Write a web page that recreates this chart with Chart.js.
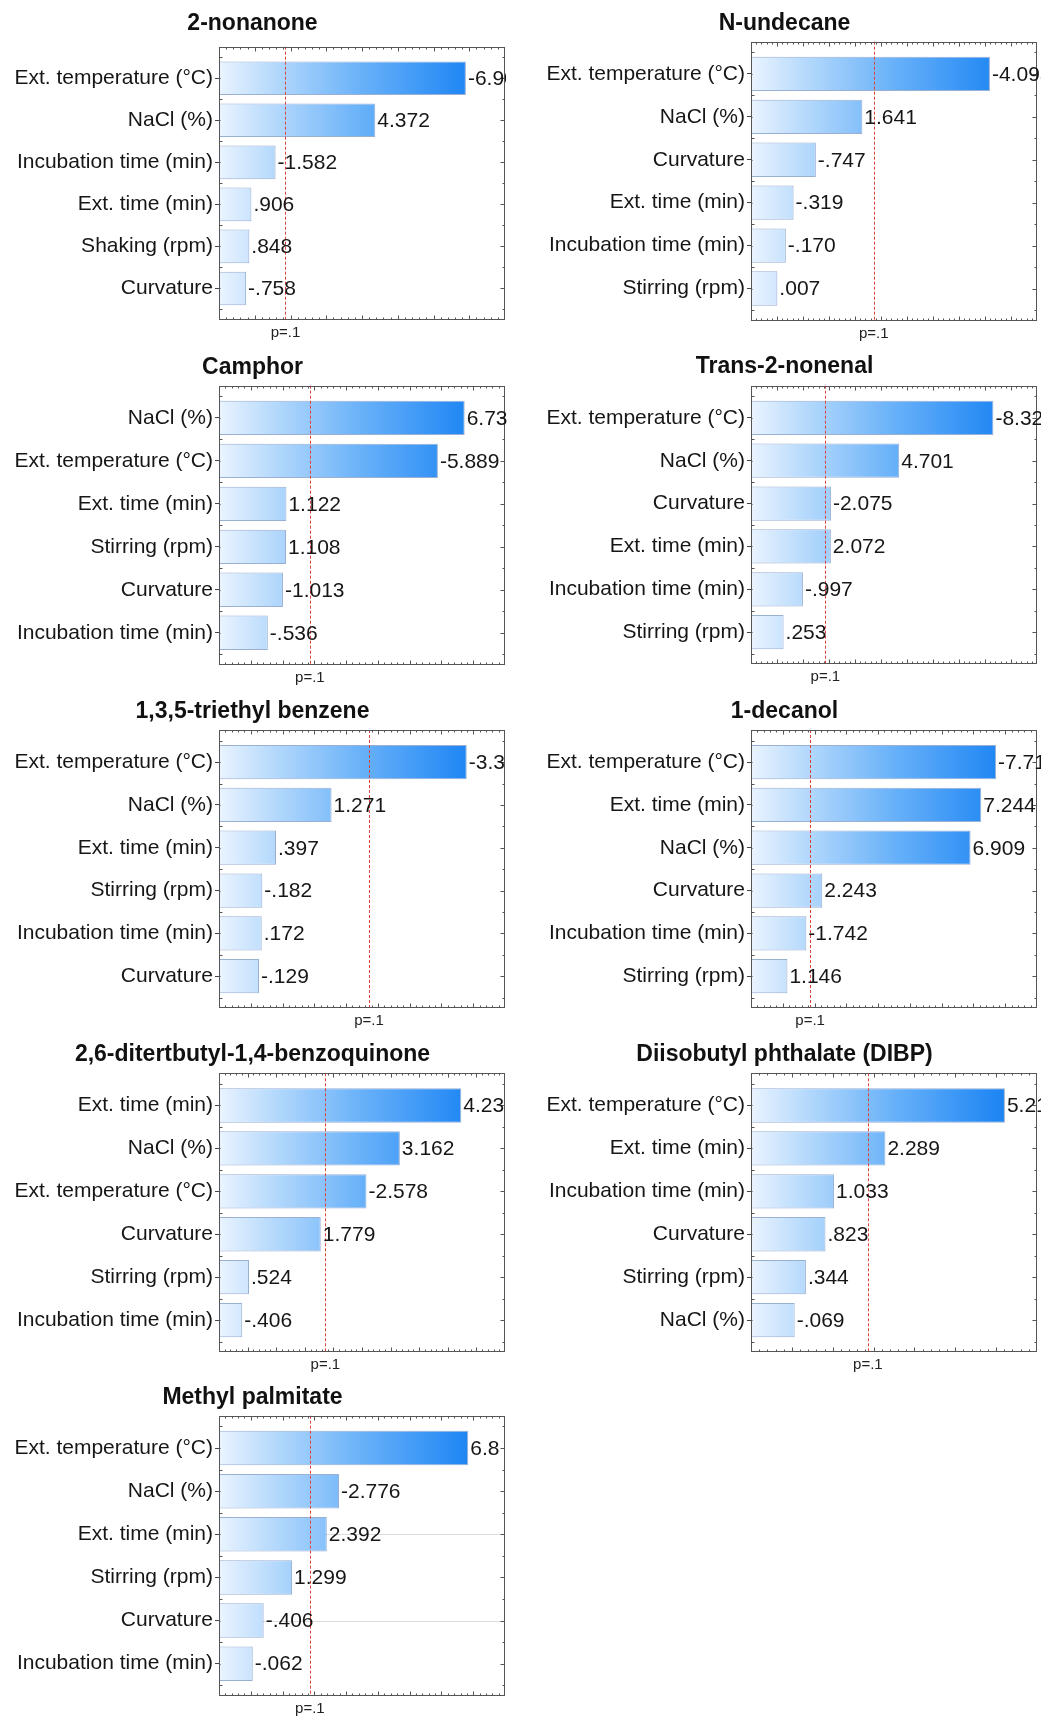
<!DOCTYPE html>
<html>
<head>
<meta charset="utf-8">
<title>Pareto charts of standardized effects</title>
<script src="https://cdn.jsdelivr.net/npm/chart.js@4.4.1/dist/chart.umd.min.js"></script>
<style>
  html, body { margin: 0; padding: 0; background: #ffffff; }
  body { position: relative; width: 1041px; height: 1720px; overflow: hidden; }
  canvas { position: absolute; }
</style>
</head>
<body>
<script>
// ---- Data: standardized effect estimates, listed top to bottom as ranked ----
const compounds = [
  '2-nonanone', 'N-undecane', 'Camphor', 'Trans-2-nonenal',
  '1,3,5-triethyl benzene', '1-decanol', '2,6-ditertbutyl-1,4-benzoquinone',
  'Diisobutyl phthalate (DIBP)', 'Methyl palmitate'
];

const factorsNonanone = ['Ext. temperature (°C)', 'NaCl (%)', 'Incubation time (min)', 'Ext. time (min)', 'Shaking (rpm)', 'Curvature'];
const effectsNonanone = [-6.906, 4.372, -1.582, 0.906, 0.848, -0.758];

const factorsUndecane = ['Ext. temperature (°C)', 'NaCl (%)', 'Curvature', 'Ext. time (min)', 'Incubation time (min)', 'Stirring (rpm)'];
const effectsUndecane = [-4.095, 1.641, -0.747, -0.319, -0.170, 0.007];

const factorsCamphor = ['NaCl (%)', 'Ext. temperature (°C)', 'Ext. time (min)', 'Stirring (rpm)', 'Curvature', 'Incubation time (min)'];
const effectsCamphor = [6.731, -5.889, 1.122, 1.108, -1.013, -0.536];

const factorsNonenal = ['Ext. temperature (°C)', 'NaCl (%)', 'Curvature', 'Ext. time (min)', 'Incubation time (min)', 'Stirring (rpm)'];
const effectsNonenal = [-8.323, 4.701, -2.075, 2.072, -0.997, 0.253];

const factorsTriethyl = ['Ext. temperature (°C)', 'NaCl (%)', 'Ext. time (min)', 'Stirring (rpm)', 'Incubation time (min)', 'Curvature'];
const effectsTriethyl = [-3.398, 1.271, 0.397, -0.182, 0.172, -0.129];

const factorsDecanol = ['Ext. temperature (°C)', 'Ext. time (min)', 'NaCl (%)', 'Curvature', 'Incubation time (min)', 'Stirring (rpm)'];
const effectsDecanol = [-7.713, 7.244, 6.909, 2.243, -1.742, 1.146];

const factorsQuinone = ['Ext. time (min)', 'NaCl (%)', 'Ext. temperature (°C)', 'Curvature', 'Stirring (rpm)', 'Incubation time (min)'];
const effectsQuinone = [4.235, 3.162, -2.578, 1.779, 0.524, -0.406];

const factorsDIBP = ['Ext. temperature (°C)', 'Ext. time (min)', 'Incubation time (min)', 'Curvature', 'Stirring (rpm)', 'NaCl (%)'];
const effectsDIBP = [5.215, 2.289, 1.033, 0.823, 0.344, -0.069];

const factorsPalmitate = ['Ext. temperature (°C)', 'NaCl (%)', 'Ext. time (min)', 'Stirring (rpm)', 'Curvature', 'Incubation time (min)'];
const effectsPalmitate = [6.843, -2.776, 2.392, 1.299, -0.406, -0.062];

// Effect-axis ranges and tick spacing for each panel
const axisMin  = [0, -0.5, -1, -1, -0.5, 0, 0, -1, -1];
const axisMax  = [8,  5,    8, 10,  4,   9, 5,  6,  8];
const axisStep = [1,  0.5,  1,  1,  0.5, 1, 0.5, 1, 1];

// Critical t value for p = .1
const pCritical = 1.86;
const pLabel = 'p=.1';

const factorLists = [factorsNonanone, factorsUndecane, factorsCamphor, factorsNonenal, factorsTriethyl,
                     factorsDecanol, factorsQuinone, factorsDIBP, factorsPalmitate];
const effectLists = [effectsNonanone, effectsUndecane, effectsCamphor, effectsNonenal, effectsTriethyl,
                     effectsDecanol, effectsQuinone, effectsDIBP, effectsPalmitate];

// ---- Page layout (pixels) ----
const CANVAS_W = 522;
const AXIS_W = 219;        // room for the factor names, left of the frame
const FRAME_RIGHT = 505;   // right edge of the plot frame inside each canvas
const HEADER_H = 40;       // space above the frame for the title
const TITLE_SIZE = 23;
const LABEL_SIZE = 21;
const panelLayout = [
  { left: 0,   frameTop: 46.7,   frameBottom: 320.0,  titleGap: 23.0, clipX: 506 },
  { left: 532, frameTop: 41.7,   frameBottom: 320.7,  titleGap: 18.5, clipX: 522 },
  { left: 0,   frameTop: 385.7,  frameBottom: 665.0,  titleGap: 18.0, clipX: 509 },
  { left: 532, frameTop: 385.7,  frameBottom: 664.3,  titleGap: 19.0, clipX: 522 },
  { left: 0,   frameTop: 730.0,  frameBottom: 1008.3, titleGap: 18.3, clipX: 506 },
  { left: 532, frameTop: 730.0,  frameBottom: 1008.3, titleGap: 18.3, clipX: 522 },
  { left: 0,   frameTop: 1073.3, frameBottom: 1352.3, titleGap: 18.3, clipX: 505 },
  { left: 532, frameTop: 1073.3, frameBottom: 1352.3, titleGap: 18.3, clipX: 522 },
  { left: 0,   frameTop: 1415.7, frameBottom: 1696.0, titleGap: 18.4, clipX: 500, guideRows: [2, 4] }
];

const FONT = "'Liberation Sans', Arial, Helvetica, sans-serif";
Chart.defaults.font.family = FONT;

// Statistica-style number format: three decimals, no leading zero
function formatEffect(v) {
  const s = Math.abs(v).toFixed(3).replace(/^0(?=\.)/, '');
  return (v < 0 ? '-' : '') + s;
}

function barGradient(context) {
  const chart = context.chart;
  const area = chart.chartArea;
  if (!area) return '#8fc4f8';
  const g = chart.ctx.createLinearGradient(area.left, 0, area.right, 0);
  g.addColorStop(0.00, '#eaf4ff');
  g.addColorStop(0.20, '#b3d8fc');
  g.addColorStop(0.50, '#68b1f9');
  g.addColorStop(0.85, '#2288f4');
  g.addColorStop(1.00, '#1475e4');
  return g;
}

// Frame, tick marks, significance line and value labels
const paretoDecor = {
  id: 'paretoDecor',
  beforeDatasetsDraw(chart, args, opts) {
    const { ctx, chartArea: a, scales: { y } } = chart;
    if (!opts.guideRows) return;
    ctx.save();
    ctx.strokeStyle = '#dcdcdc';
    ctx.lineWidth = 1;
    opts.guideRows.forEach(r => {
      const py = Math.round(y.getPixelForValue(r)) + 0.5;
      ctx.beginPath(); ctx.moveTo(a.left, py); ctx.lineTo(a.right, py); ctx.stroke();
    });
    ctx.restore();
  },
  afterDatasetsDraw(chart, args, opts) {
    const { ctx, chartArea: a, scales: { x, y } } = chart;
    const L = Math.round(a.left) + 0.5, R = Math.round(a.right) - 0.5;
    const T = Math.round(a.top) + 0.5, B = Math.round(a.bottom) - 0.5;
    ctx.save();

    // significance threshold
    const px = Math.round(x.getPixelForValue(opts.pValue)) + 0.5;
    ctx.strokeStyle = '#e0403a';
    ctx.lineWidth = 1;
    ctx.setLineDash([3, 2]);
    ctx.beginPath(); ctx.moveTo(px, a.top); ctx.lineTo(px, a.bottom); ctx.stroke();
    ctx.setLineDash([]);

    // frame
    ctx.strokeStyle = '#555555';
    ctx.lineWidth = 1;
    ctx.strokeRect(L, T, R - L, B - T);

    // effect-axis ticks on top and bottom edges
    ctx.beginPath();
    const minor = opts.step / 5;
    const n = Math.round((opts.max - opts.min) / minor);
    for (let k = 1; k < n; k++) {
      const v = opts.min + k * minor;
      const major = Math.abs(v / opts.step - Math.round(v / opts.step)) < 1e-6;
      const len = major ? 4 : 2;
      const xx = Math.round(x.getPixelForValue(v)) + 0.5;
      ctx.moveTo(xx, B); ctx.lineTo(xx, B - len);
      ctx.moveTo(xx, T); ctx.lineTo(xx, T + len);
    }
    // factor-axis ticks on left and right edges
    for (let i = 0; i <= opts.count; i++) {
      const yb = Math.round(y.getPixelForValue(i - 0.5)) + 0.5;
      ctx.moveTo(L, yb); ctx.lineTo(L + 3, yb);
      ctx.moveTo(R, yb); ctx.lineTo(R - 2, yb);
      if (i < opts.count) {
        const yc = Math.round(y.getPixelForValue(i)) + 0.5;
        ctx.moveTo(R, yc); ctx.lineTo(R - 4, yc);
        ctx.moveTo(L, yc); ctx.lineTo(L + 1, yc);
      }
    }
    ctx.stroke();

    // value labels at the end of each bar
    ctx.beginPath();
    ctx.rect(0, 0, opts.clipX, chart.height);
    ctx.clip();
    ctx.fillStyle = '#161616';
    ctx.font = LABEL_SIZE + 'px ' + FONT;
    ctx.textBaseline = 'middle';
    ctx.textAlign = 'left';
    const meta = chart.getDatasetMeta(0);
    meta.data.forEach((bar, i) => {
      ctx.fillText(formatEffect(opts.effects[i]), bar.x + 2, bar.y + 1);
    });
    ctx.restore();
  }
};

compounds.forEach((name, p) => {
  const lay = panelLayout[p];
  const factors = factorLists[p];
  const effects = effectLists[p];

  const canvasTop = Math.round(lay.frameTop - HEADER_H);
  const header = lay.frameTop - canvasTop;
  const canvasH = Math.ceil(lay.frameBottom - canvasTop + 28);
  const footer = canvasH - (lay.frameBottom - canvasTop);
  const titleLine = TITLE_SIZE * 1.2;
  const padTop = header - lay.titleGap - titleLine / 2;
  const padBottom = header - titleLine - padTop;

  const canvas = document.createElement('canvas');
  canvas.width = CANVAS_W;
  canvas.height = canvasH;
  canvas.style.left = lay.left + 'px';
  canvas.style.top = canvasTop + 'px';
  canvas.style.width = CANVAS_W + 'px';
  canvas.style.height = canvasH + 'px';
  document.body.appendChild(canvas);

  new Chart(canvas, {
    type: 'bar',
    data: {
      datasets: [{
        data: effects.map((v, i) => ({ x: Math.abs(v), y: i })),
        base: axisMin[p],
        backgroundColor: barGradient,
        borderColor: 'rgba(70, 110, 175, 0.55)',
        borderWidth: { top: 1, right: 1, bottom: 1, left: 0 },
        borderSkipped: false,
        barPercentage: 0.8,
        categoryPercentage: 1.0
      }]
    },
    options: {
      indexAxis: 'y',
      responsive: false,
      animation: false,
      events: [],
      layout: { padding: { left: 0, right: CANVAS_W - FRAME_RIGHT, top: 0, bottom: 0 } },
      plugins: {
        legend: { display: false },
        tooltip: { enabled: false },
        title: {
          display: true,
          text: name,
          color: '#111111',
          font: { size: TITLE_SIZE, weight: 'bold', family: FONT, lineHeight: 1.2 },
          padding: { top: padTop, bottom: padBottom }
        },
        paretoDecor: {
          effects: effects,
          count: factors.length,
          pValue: pCritical,
          min: axisMin[p],
          max: axisMax[p],
          step: axisStep[p],
          clipX: lay.clipX,
          guideRows: lay.guideRows || null
        }
      },
      scales: {
        x: {
          type: 'linear',
          offset: false,
          min: axisMin[p],
          max: axisMax[p],
          grid: { display: false, drawTicks: false, offset: false },
          border: { display: false },
          afterBuildTicks: s => { s.ticks = [{ value: pCritical }]; },
          afterFit: s => { s.height = footer; },
          ticks: {
            callback: () => pLabel,
            autoSkip: false,
            maxRotation: 0,
            padding: 4,
            color: '#222222',
            font: { size: 15, family: FONT }
          }
        },
        y: {
          type: 'linear',
          offset: false,
          reverse: true,
          min: -0.75,
          max: factors.length - 0.25,
          grid: { drawOnChartArea: false, drawTicks: true, tickLength: 4, color: '#444444', offset: false },
          border: { display: false },
          afterBuildTicks: s => { s.ticks = factors.map((f, i) => ({ value: i })); },
          afterFit: s => { s.width = AXIS_W; },
          ticks: {
            callback: v => factors[v],
            autoSkip: false,
            padding: 2,
            color: '#161616',
            font: { size: LABEL_SIZE, family: FONT }
          }
        }
      }
    },
    plugins: [paretoDecor]
  });
});
</script>
</body>
</html>
